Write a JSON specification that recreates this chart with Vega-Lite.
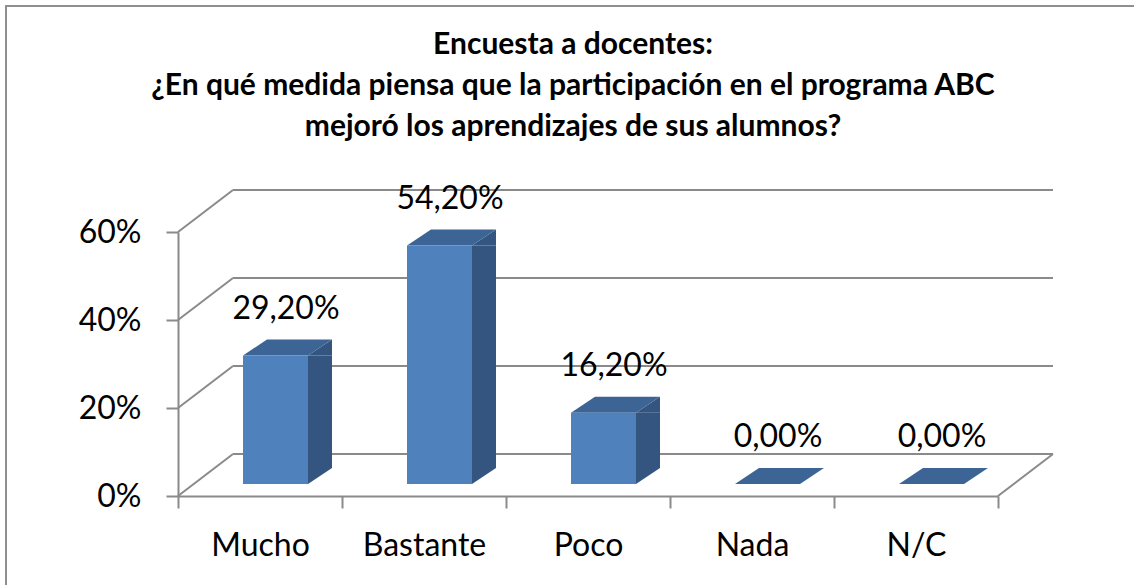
{
  "$schema": "https://vega.github.io/schema/vega-lite/v6.json",
  "width": 1128,
  "height": 579,
  "autosize": {"type": "none"},
  "padding": {"left": 6, "top": 6, "right": 0, "bottom": 0},
  "background": "white",
  "config": {
    "view": {"stroke": "#8f8f8f", "strokeWidth": 2, "strokeDash": [1128, 1707, 579]},
    "locale": {"number": {"decimal": ",", "thousands": ".", "grouping": [3], "currency": ["", " €"]}},
    "font": "Lato",
    "axis": {"grid": false, "title": null, "tickSize": 12, "tickWidth": 2, "tickColor": "#8a8a8a", "domainColor": "#8a8a8a", "domainWidth": 2, "labelFont": "Lato", "labelFontSize": 32, "labelColor": "black"}
  },
  "title": {
    "text": ["Encuesta a docentes:", "¿En qué medida piensa que la participación en el programa ABC", "mejoró los aprendizajes de sus alumnos?"],
    "font": "Lato",
    "fontWeight": "bold",
    "fontSize": 30,
    "lineHeight": 41,
    "color": "black",
    "anchor": "middle",
    "offset": -136,
    "dx": 3
  },
  "datasets": {
    "resp": [
      {"cat": "Mucho", "value": 0.292},
      {"cat": "Bastante", "value": 0.542},
      {"cat": "Poco", "value": 0.162},
      {"cat": "Nada", "value": 0.0},
      {"cat": "N/C", "value": 0.0}
    ],
    "grid": [{"v": 0}, {"v": 0.2}, {"v": 0.4}, {"v": 0.6}]
  },
  "layer": [
    {
      "data": {"name": "grid"},
      "mark": {"type": "rule", "color": "#8a8a8a", "strokeWidth": 2, "xOffset": 55, "x2Offset": 55, "yOffset": -42},
      "encoding": {
        "x": {"datum": "Mucho", "type": "nominal", "bandPosition": 0,
              "scale": {"type": "band", "domain": ["Mucho", "Bastante", "Poco", "Nada", "N/C"], "range": [172, 992], "paddingInner": 0, "paddingOuter": 0},
              "axis": {"orient": "bottom", "offset": -89, "title": null, "grid": false, "tickBand": "extent", "labelPadding": 22, "labelAngle": 0}},
        "x2": {"datum": "N/C", "bandPosition": 1},
        "y": {"field": "v", "type": "quantitative",
              "scale": {"domain": [0, 0.6], "range": [490, 226], "nice": false, "zero": true},
              "axis": {"orient": "left", "offset": -172, "title": null, "grid": false, "values": [0, 0.2, 0.4, 0.6], "format": ".0%", "labelPadding": 25}}
      }
    },
    {
      "data": {"name": "grid"},
      "mark": {"type": "rule", "color": "#8a8a8a", "strokeWidth": 2, "x2Offset": 55, "y2Offset": -42},
      "encoding": {
        "x": {"datum": "Mucho", "type": "nominal", "bandPosition": 0},
        "x2": {"datum": "Mucho", "bandPosition": 0},
        "y": {"field": "v", "type": "quantitative"},
        "y2": {"field": "v"}
      }
    },
    {
      "data": {"name": "grid"},
      "transform": [{"filter": "datum.v == 0"}],
      "mark": {"type": "rule", "color": "#8a8a8a", "strokeWidth": 2, "x2Offset": 55, "y2Offset": -42},
      "encoding": {
        "x": {"datum": "N/C", "type": "nominal", "bandPosition": 1},
        "x2": {"datum": "N/C", "bandPosition": 1},
        "y": {"field": "v", "type": "quantitative"},
        "y2": {"field": "v"}
      }
    },
    {
      "data": {"name": "resp"},
      "transform": [{"filter": "datum.value > 0"}],
      "mark": {"type": "bar", "color": "#34557f", "width": 24, "xOffset": 60, "yOffset": -12, "y2Offset": -28},
      "encoding": {
        "x": {"field": "cat", "type": "nominal"},
        "y": {"field": "value", "type": "quantitative"},
        "y2": {"datum": 0}
      }
    },
    {
      "data": {"name": "resp"},
      "transform": [{"filter": "datum.value > 0"}],
      "mark": {"type": "point", "shape": "M-1,0.667L1,-0.667L1,0.667Z", "size": 576, "filled": true, "opacity": 1, "strokeWidth": 0, "color": "#34557f", "xOffset": 60, "yOffset": -20},
      "encoding": {
        "x": {"field": "cat", "type": "nominal"},
        "y": {"field": "value", "type": "quantitative"}
      }
    },
    {
      "data": {"name": "resp"},
      "transform": [{"filter": "datum.value > 0"}],
      "mark": {"type": "point", "shape": "M-1,-0.667L-1,0.667L1,-0.667Z", "size": 576, "filled": true, "opacity": 1, "strokeWidth": 0, "color": "#34557f", "xOffset": 60, "yOffset": -20},
      "encoding": {
        "x": {"field": "cat", "type": "nominal"},
        "y": {"datum": 0, "type": "quantitative"}
      }
    },
    {
      "data": {"name": "resp"},
      "mark": {"type": "point", "shape": "M-1,0.18L0.461,0.18L1,-0.18L-0.461,-0.18Z", "size": 7921, "filled": true, "opacity": 1, "strokeWidth": 0, "color": "#3c6494", "xOffset": 27.5, "yOffset": -20},
      "encoding": {
        "x": {"field": "cat", "type": "nominal"},
        "y": {"field": "value", "type": "quantitative"}
      }
    },
    {
      "data": {"name": "resp"},
      "transform": [{"filter": "datum.value > 0"}],
      "mark": {"type": "bar", "color": "#4f81bd", "width": 65, "xOffset": 15.5, "yOffset": -12, "y2Offset": -12},
      "encoding": {
        "x": {"field": "cat", "type": "nominal"},
        "y": {"field": "value", "type": "quantitative"},
        "y2": {"datum": 0}
      }
    },
    {
      "data": {"name": "resp"},
      "mark": {"type": "text", "font": "Lato", "fontSize": 32, "color": "black", "baseline": "middle", "align": "center", "xOffset": 26, "yOffset": -59},
      "encoding": {
        "x": {"field": "cat", "type": "nominal"},
        "y": {"field": "value", "type": "quantitative"},
        "text": {"field": "value", "type": "quantitative", "format": ".2%"}
      }
    }
  ]
}
